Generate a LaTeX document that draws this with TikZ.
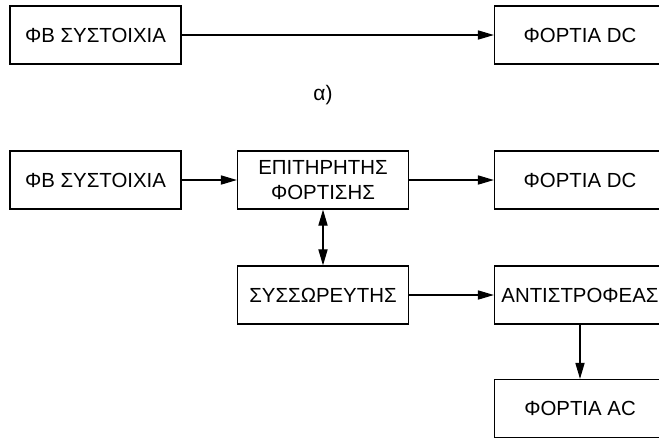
\documentclass[tikz,border=0pt]{standalone}
\usepackage{fontspec}
\setmainfont{Liberation Sans}
\usepackage {tikz}
\usetikzlibrary {arrows.meta}

\begin{document}
\begin{tikzpicture}[x=0.5pt,y=-0.5pt,-{Triangle[length=8pt,width=4.6pt]},line width=0.55pt]
  \tikzstyle{block}=[rectangle, draw, line width=0.65pt, minimum width=85.5pt,
minimum height=29pt, inner sep=0pt, align=center, font=\fontsize{10.2}{12.5}\selectfont]
  \clip (0,0) rectangle (659,441);
  % a)
  \node[block] (PV_a) at (95.5,35) {ΦΒ ΣΥΣΤΟΙΧΙΑ};
  \node[block] (DC_a) at (580,35)  {ΦΟΡΤΙΑ DC};
  \node[font=\fontsize{10.5}{12}\selectfont] (lbl_a) at (323,95) {α)};
  \draw (PV_a) -- (DC_a);
  % b)
  \node[block] (PV_b) at (95.5,180) {ΦΒ ΣΥΣΤΟΙΧΙΑ};
  \node[block] (CC_b) at (323,180)  {ΕΠΙΤΗΡΗΤΗΣ\\ΦΟΡΤΙΣΗΣ};
  \node[block] (DC_b) at (580,180)  {ΦΟΡΤΙΑ DC};
  \node[block] (BT_b) at (323,295)  {ΣΥΣΣΩΡΕΥΤΗΣ};
  \node[block] (IN_b) at (580,295)  {ΑΝΤΙΣΤΡΟΦΕΑΣ};
  \node[block] (AC_b) at (580,408.5) {ΦΟΡΤΙΑ AC};
  \draw (PV_b) -- (CC_b);
  \draw (CC_b) -- (DC_b);
  \draw[{Triangle[length=8pt,width=4.6pt]}-{Triangle[length=8pt,width=4.6pt]}] (CC_b) -- (BT_b);
  \draw (BT_b) -- (IN_b);
  \draw (IN_b) -- (AC_b);
\end{tikzpicture}
\end{document}
